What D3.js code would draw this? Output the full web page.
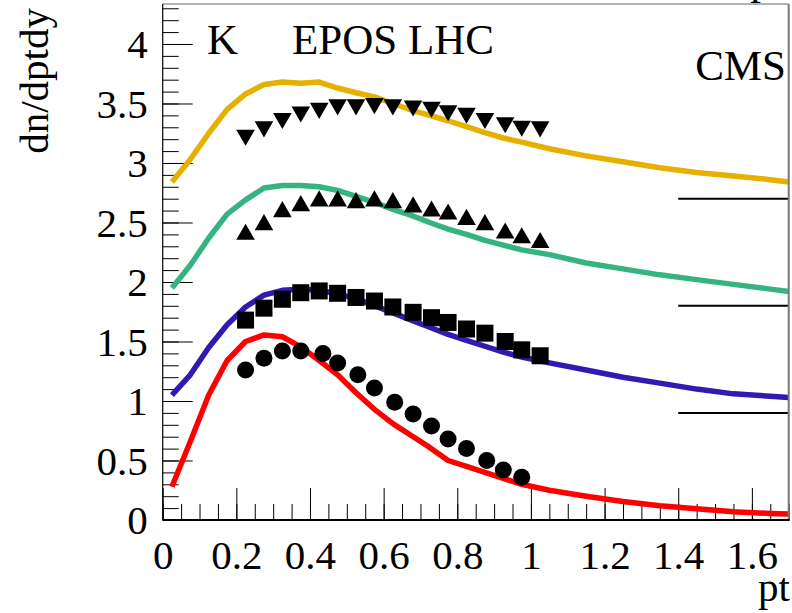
<!DOCTYPE html>
<html>
<head>
<meta charset="utf-8">
<script src="https://cdn.jsdelivr.net/npm/d3@7"></script>
<style>
  html, body { margin: 0; padding: 0; background: #fff; }
  svg { display: block; }
  text { font-family: "Liberation Serif", "Times New Roman", serif; fill: #000; }
</style>
</head>
<body>
<svg id="chart" width="792" height="613"></svg>
<script>
// pt grid of the model curves
const curvePt = [0.025, 0.075, 0.125, 0.175, 0.225, 0.275, 0.325, 0.375, 0.425, 0.475,
                 0.525, 0.575, 0.625, 0.675, 0.725, 0.775, 0.825, 0.875, 0.925, 0.975,
                 1.05, 1.15, 1.25, 1.35, 1.45, 1.55, 1.65, 1.70];
// EPOS LHC curves (each offset by 0.9 from the one below)
const curveRed    = [0.28, 0.66, 1.05, 1.34, 1.50, 1.555, 1.54, 1.455, 1.34, 1.22,
                     1.07, 0.93, 0.81, 0.71, 0.61, 0.50, 0.45, 0.40, 0.35, 0.30,
                     0.25, 0.20, 0.155, 0.12, 0.095, 0.07, 0.055, 0.05];
const curveBlue   = [1.05, 1.22, 1.45, 1.64, 1.79, 1.89, 1.93, 1.94, 1.93, 1.90,
                     1.86, 1.80, 1.74, 1.68, 1.62, 1.56, 1.51, 1.46, 1.41, 1.37,
                     1.32, 1.26, 1.20, 1.15, 1.10, 1.06, 1.04, 1.03];
const curveGreen  = [1.95, 2.14, 2.37, 2.57, 2.69, 2.79, 2.81, 2.81, 2.80, 2.77,
                     2.72, 2.67, 2.61, 2.56, 2.50, 2.445, 2.40, 2.35, 2.31, 2.27,
                     2.23, 2.16, 2.11, 2.06, 2.02, 1.98, 1.94, 1.92];
const curveYellow = [2.84, 3.03, 3.25, 3.45, 3.58, 3.66, 3.68, 3.67, 3.68, 3.63,
                     3.59, 3.555, 3.50, 3.445, 3.40, 3.355, 3.305, 3.255, 3.21, 3.175,
                     3.12, 3.06, 3.01, 2.96, 2.92, 2.89, 2.86, 2.84];

// CMS points
const circlePt  = [0.225, 0.275, 0.325, 0.375, 0.435, 0.475, 0.53, 0.575, 0.63, 0.68,
                   0.73, 0.775, 0.825, 0.88, 0.925, 0.975];
const circleVal = [1.26, 1.36, 1.42, 1.42, 1.40, 1.32, 1.22, 1.11, 0.99, 0.89,
                   0.79, 0.68, 0.60, 0.50, 0.42, 0.36];
const dataPt    = [0.225, 0.275, 0.325, 0.375, 0.425, 0.475, 0.525, 0.575, 0.625, 0.68,
                   0.73, 0.775, 0.825, 0.875, 0.93, 0.975, 1.025];
const squareVal = [1.68, 1.78, 1.855, 1.91, 1.925, 1.905, 1.87, 1.84, 1.79, 1.745,
                   1.70, 1.66, 1.605, 1.57, 1.50, 1.43, 1.38];
const upVal     = [2.40, 2.48, 2.59, 2.64, 2.68, 2.68, 2.665, 2.68, 2.665, 2.63,
                   2.595, 2.57, 2.525, 2.48, 2.41, 2.37, 2.33];
const downVal   = [3.235, 3.305, 3.375, 3.43, 3.46, 3.49, 3.49, 3.50, 3.49, 3.48,
                   3.47, 3.44, 3.42, 3.375, 3.34, 3.31, 3.305];

// reference levels drawn at the right edge
const refLevels = [0.9, 1.8, 2.7];
const refFrom = 1.4;

const xTicksMajor = [0, 0.2, 0.4, 0.6, 0.8, 1, 1.2, 1.4, 1.6];
const yTicksMajor = [0, 0.5, 1, 1.5, 2, 2.5, 3, 3.5, 4];

const svg = d3.select("#chart");
const W = 792, H = 613;
const frameL = 162.7, frameR = 788.7, frameT = 4, frameB = 520;
const xMax = 1.7, yMax = 4.336;

const x = d3.scaleLinear().domain([0, xMax]).range([frameL, frameR]);
const y = d3.scaleLinear().domain([0, yMax]).range([frameB, frameT]);

svg.append("rect").attr("width", W).attr("height", H).attr("fill", "#fff");

svg.append("clipPath").attr("id", "clip")
  .append("rect").attr("x", frameL).attr("y", frameT)
  .attr("width", frameR - frameL).attr("height", frameB - frameT);

// minor ticks
const xMinor = d3.range(0, xMax + 1e-9, 0.05).map(v => +v.toFixed(2));
const yMinor = d3.range(0, yMax, 0.1).map(v => +v.toFixed(1));

const fmt = d => String(+d.toFixed(1));

const gx = svg.append("g").attr("transform", `translate(0,${frameB})`);
gx.call(d3.axisBottom(x).tickValues(xMinor).tickSize(-16).tickFormat(""));
gx.call(g => g.select(".domain").remove());
const gx2 = svg.append("g").attr("transform", `translate(0,${frameB})`);
gx2.call(d3.axisBottom(x).tickValues(xTicksMajor).tickSize(-32).tickPadding(20).tickFormat(fmt));
gx2.call(g => g.select(".domain").remove());
gx2.selectAll("text").attr("font-size", 41).style("font-family", "Liberation Serif");

const gy = svg.append("g").attr("transform", `translate(${frameL},0)`);
gy.call(d3.axisLeft(y).tickValues(yMinor).tickSize(-16).tickFormat(""));
gy.call(g => g.select(".domain").remove());
const gy2 = svg.append("g").attr("transform", `translate(${frameL},0)`);
gy2.call(d3.axisLeft(y).tickValues(yTicksMajor).tickSize(-30).tickPadding(15).tickFormat(fmt));
gy2.call(g => g.select(".domain").remove());
gy2.selectAll("text").attr("font-size", 41).attr("dy", "0.34em").style("font-family", "Liberation Serif");

svg.selectAll(".tick line").attr("stroke", "#000").attr("stroke-width", 1);

// model curves
const line = d3.line().x(d => x(d[0])).y(d => y(d[1]));
const curves = [
  { vals: curveRed, color: "#ff0000" },
  { vals: curveBlue, color: "#3319b2" },
  { vals: curveGreen, color: "#35b482" },
  { vals: curveYellow, color: "#e6b000" }
];
const cg = svg.append("g").attr("clip-path", "url(#clip)");
curves.forEach(c => {
  cg.append("path")
    .attr("d", line(curvePt.map((p, i) => [p, c.vals[i]])))
    .attr("fill", "none")
    .attr("stroke", c.color)
    .attr("stroke-width", 5.5)
    .attr("stroke-linejoin", "round");
});

// reference segments
svg.append("g").selectAll("line").data(refLevels).join("line")
  .attr("x1", x(refFrom)).attr("x2", x(xMax))
  .attr("y1", d => y(d)).attr("y2", d => y(d))
  .attr("stroke", "#000").attr("stroke-width", 2);

// markers
const mg = svg.append("g");
function markers(pts, vals, type, size, rot) {
  const sym = d3.symbol().type(type).size(size);
  mg.append("g").selectAll("path").data(pts.map((p, i) => [p, vals[i]])).join("path")
    .attr("d", sym)
    .attr("transform", d => `translate(${x(d[0])},${y(d[1])})` + (rot ? " rotate(180)" : ""))
    .attr("fill", "#000");
}
markers(circlePt, circleVal, d3.symbolCircle, 227, false);
markers(dataPt, squareVal, d3.symbolSquare, 289, false);
markers(dataPt, upVal, d3.symbolTriangle, 150, false);
markers(dataPt, downVal, d3.symbolTriangle, 150, true);

// frame
svg.append("line").attr("x1", frameL).attr("x2", frameR).attr("y1", frameT).attr("y2", frameT)
  .attr("stroke", "#666").attr("stroke-width", 1);
svg.append("line").attr("x1", frameR).attr("x2", frameR).attr("y1", frameT).attr("y2", frameB)
  .attr("stroke", "#777").attr("stroke-width", 2);
svg.append("line").attr("x1", frameL).attr("x2", frameL).attr("y1", frameT).attr("y2", frameB)
  .attr("stroke", "#000").attr("stroke-width", 1.2);
svg.append("line").attr("x1", frameL).attr("x2", frameR + 1).attr("y1", frameB).attr("y2", frameB)
  .attr("stroke", "#000").attr("stroke-width", 2);

// labels
svg.append("text").attr("x", 207).attr("y", 54).attr("font-size", 43).text("K");
svg.append("text").attr("x", 292).attr("y", 54).attr("font-size", 43).text("EPOS LHC");
svg.append("text").attr("x", 786).attr("y", 80).attr("font-size", 43).attr("text-anchor", "end").text("CMS");
svg.append("text").attr("x", 761).attr("y", -6).attr("font-size", 43).attr("text-anchor", "middle").text("p");
svg.append("text").attr("x", 790).attr("y", 601).attr("font-size", 41).attr("text-anchor", "end").text("pt");
svg.append("text").attr("transform", "translate(48,8) rotate(-90)")
  .attr("font-size", 41).attr("text-anchor", "end").text("dn/dptdy");
</script>
</body>
</html>
